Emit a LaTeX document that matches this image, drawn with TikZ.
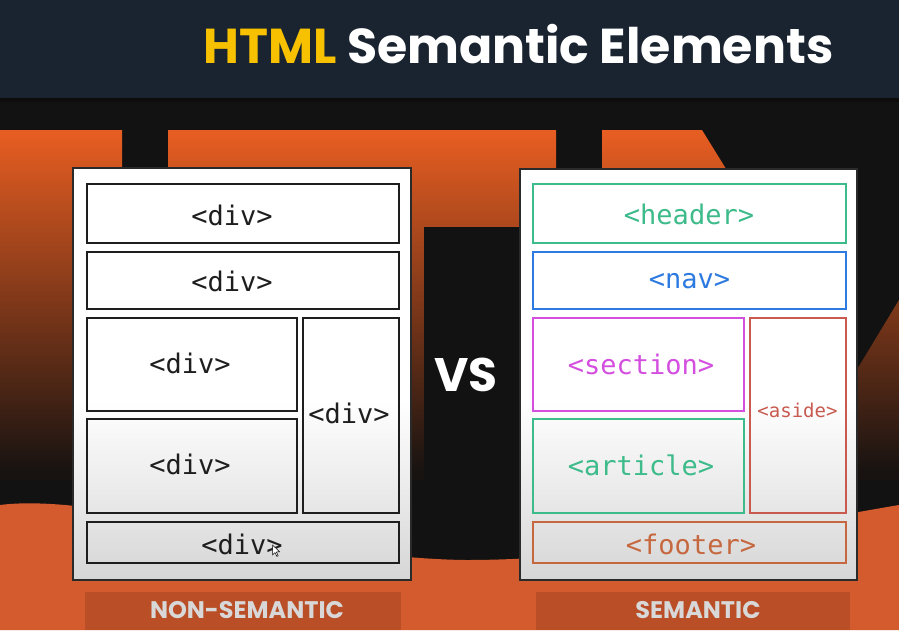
\documentclass[tikz,border=0pt]{standalone}
\usepackage{fontspec}
\newfontfamily\popfont{Poppins}
\newfontfamily\codefont{DejaVu Sans Mono}
\definecolor{banner}{HTML}{1A2430}
\definecolor{bgblack}{HTML}{121212}
\definecolor{orangetop}{HTML}{E85E22}
\definecolor{orangemid}{HTML}{8A3619}
\definecolor{orangedark}{HTML}{181311}
\definecolor{orangelow}{HTML}{D45B2E}
\definecolor{labelbg}{HTML}{B94E27}
\definecolor{labeltxt}{HTML}{D8D8D8}
\definecolor{titleyellow}{HTML}{F7C100}
\definecolor{panelgray}{HTML}{D6D6D6}
\definecolor{paneledge}{HTML}{2A2A2A}
\definecolor{divline}{HTML}{1E1E1E}
\definecolor{semgreen}{HTML}{3DBB8A}
\definecolor{semblue}{HTML}{2D7BE0}
\definecolor{semmagenta}{HTML}{D44FE0}
\definecolor{semaside}{HTML}{C85A50}
\definecolor{semfooter}{HTML}{C6683F}
\tikzset{
  panelbox/.style={draw=paneledge, line width=2.4pt},
  divbox/.style={draw=divline, line width=2.4pt, rectangle, inner sep=0pt},
  sembox/.style={line width=2.6pt, rectangle, inner sep=0pt},
  codetxt/.style={font=\codefont\fontsize{27}{27}\selectfont, inner sep=0pt, anchor=center},
  labeltext/.style={font=\popfont\bfseries\fontsize{24}{24}\selectfont, text=labeltxt, inner sep=0pt},
}
\begin{document}
\begin{tikzpicture}[x=1pt,y=-1pt]
\useasboundingbox (0,0) rectangle (899,630);
% backgrounds
\fill[bgblack] (0,0) rectangle (899,630);
\fill[banner] (0,0) rectangle (899,98);
\fill[black!95] (0,98) rectangle (899,102);
% orange letter shapes with gradient
\begin{scope}
  \clip (0,130) rectangle (122,480)
        (168,130) rectangle (556,480)
        (602,130) -- (702,130) -- (770,240) -- (602,240) -- cycle
        (899,300) -- (790,480) -- (899,480) -- cycle;
  \shade[top color=orangetop, middle color=orangemid, bottom color=orangedark] (0,130) rectangle (899,470);
  \fill[orangedark] (0,469) rectangle (899,481);
\end{scope}
\fill[bgblack] (424,227) rectangle (600,560);
% bottom orange
\fill[orangelow] (0,505) .. controls (100,492) and (300,558) .. (466,560)
   .. controls (620,560) and (780,525) .. (899,505) -- (899,630) -- (0,630) -- cycle;
% labels
\fill[labelbg] (85,592) rectangle (401,630);
\fill[labelbg] (536,592) rectangle (850,630);
\node[labeltext] (lblL) at (247,610.5) {NON-SEMANTIC};
\node[labeltext] (lblR) at (698,610.5) {SEMANTIC};
% title
\node[font=\popfont\bfseries\fontsize{49}{49}\selectfont, anchor=base, inner sep=0pt] (title) at (518.5,63)
  {\textcolor{titleyellow}{HTML} \textcolor{white}{Semantic Elements}};
% VS
\node[font=\popfont\bfseries\fontsize{47}{47}\selectfont, text=white, inner sep=0pt] (vs) at (466,375) {VS};
% left panel
\fill[white] (73,168) rectangle (411,580);
\shade[top color=white, bottom color=panelgray] (73,400) rectangle (411,580);
\draw[panelbox] (73,168) rectangle (411,580);
\node[divbox, minimum width=312pt, minimum height=59pt] (d1) at (243,213.5) {};
\node[divbox, minimum width=312pt, minimum height=57pt] (d2) at (243,280.5) {};
\node[divbox, minimum width=210pt, minimum height=93pt] (d3) at (192,364.5) {};
\node[divbox, minimum width=210pt, minimum height=94pt] (d4) at (192,466) {};
\node[divbox, minimum width=96pt, minimum height=195pt] (d5) at (351,415.5) {};
\node[divbox, minimum width=312pt, minimum height=41pt] (d6) at (243,542.5) {};
\node[codetxt, text=divline] (t1) at (232,215) {<div>};
\node[codetxt, text=divline] (t2) at (232,281) {<div>};
\node[codetxt, text=divline] (t3) at (190,363) {<div>};
\node[codetxt, text=divline] (t4) at (190,464) {<div>};
\node[codetxt, text=divline] (t5) at (349,413) {<div>};
\node[codetxt, text=divline] (t6) at (242,544) {<div>};
% cursor
\filldraw[fill=white, draw=black, line width=0.5pt] (272.5,545) -- (272.5,555) -- (275,552.6) -- (276.8,556.4) -- (278.2,555.8) -- (276.4,552) -- (279.6,551.8) -- cycle;
% right panel
\fill[white] (520,169) rectangle (857,580);
\shade[top color=white, bottom color=panelgray] (520,400) rectangle (857,580);
\draw[panelbox] (520,169) rectangle (857,580);
\node[sembox, draw=semgreen, minimum width=313pt, minimum height=59pt] (s1) at (689.5,213.5) {};
\node[sembox, draw=semblue, minimum width=313pt, minimum height=57pt] (s2) at (689.5,280.5) {};
\node[sembox, draw=semmagenta, minimum width=211pt, minimum height=93pt] (s3) at (638.5,364.5) {};
\node[sembox, draw=semgreen, minimum width=211pt, minimum height=94pt] (s4) at (638.5,466) {};
\node[sembox, draw=semaside, minimum width=96pt, minimum height=195pt] (s5) at (798,415.5) {};
\node[sembox, draw=semfooter, minimum width=313pt, minimum height=41pt] (s6) at (689.5,542.5) {};
\node[codetxt, text=semgreen] (u1) at (689,214) {<header>};
\node[codetxt, text=semblue] (u2) at (689.5,281) {<nav>};
\node[codetxt, text=semmagenta] (u3) at (641,364) {<section>};
\node[codetxt, text=semgreen] (u4) at (641,465) {<article>};
\node[codetxt, text=semaside, font=\codefont\fontsize{19}{19}\selectfont] (u5) at (797.5,410) {<aside>};
\node[codetxt, text=semfooter] (u6) at (691,544) {<footer>};
\end{tikzpicture}
\end{document}
